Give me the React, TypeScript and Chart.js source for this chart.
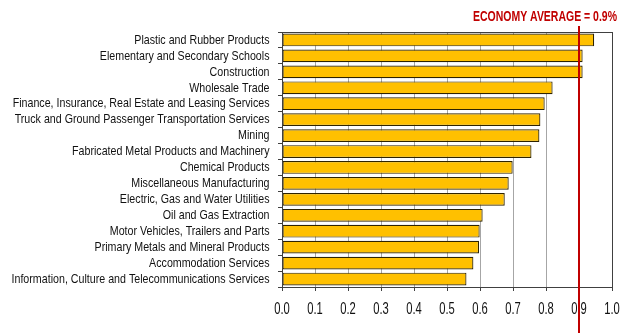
import React, { useEffect, useRef } from "react";
import { Chart, registerables } from "chart.js";

Chart.register(...registerables);

const categories = [
  "Plastic and Rubber Products",
  "Elementary and Secondary Schools",
  "Construction",
  "Wholesale Trade",
  "Finance, Insurance, Real Estate and Leasing Services",
  "Truck and Ground Passenger Transportation Services",
  "Mining",
  "Fabricated Metal Products and Machinery",
  "Chemical Products",
  "Miscellaneous Manufacturing",
  "Electric, Gas and Water Utilities",
  "Oil and Gas Extraction",
  "Motor Vehicles, Trailers and Parts",
  "Primary Metals and Mineral Products",
  "Accommodation Services",
  "Information, Culture and Telecommunications Services",
];

const values = [
  0.946, 0.911, 0.911, 0.82, 0.796, 0.783, 0.78, 0.756, 0.699, 0.687, 0.675,
  0.608, 0.599, 0.597, 0.58, 0.559,
];

const xTicks = [0, 0.1, 0.2, 0.3, 0.4, 0.5, 0.6, 0.7, 0.8, 0.9, 1.0];

const economyAverage = 0.9;
const averageLabel = "ECONOMY AVERAGE = 0.9%";

const FONT = "'Liberation Sans', Arial, sans-serif";

function narrowText(ctx: any, text: string, x: number, y: number, sx: number, align: string) {
  ctx.save();
  ctx.translate(x, y);
  ctx.scale(sx, 1);
  ctx.textAlign = align;
  ctx.fillText(text, 0, 0);
  ctx.restore();
}

export default function App() {
  const ref = useRef<HTMLCanvasElement | null>(null);

  useEffect(() => {
    if (!ref.current) return;
    const textPlugin = {
      id: "narrowText",
      afterDraw(chart: any) {
        const { ctx, chartArea, scales } = chart;
        ctx.save();
        // frame
        ctx.strokeStyle = "#404040";
        ctx.lineWidth = 1;
        ctx.strokeRect(
          Math.round(chartArea.left) + 0.5,
          Math.round(chartArea.top) + 0.5,
          Math.round(chartArea.right - chartArea.left),
          Math.round(chartArea.bottom - chartArea.top)
        );
        // y labels
        ctx.fillStyle = "#111";
        ctx.font = `13.5px ${FONT}`;
        ctx.textBaseline = "middle";
        let maxW = 0;
        categories.forEach((c) => {
          maxW = Math.max(maxW, ctx.measureText(c).width);
        });
        const sy = 258 / maxW;
        categories.forEach((c, i) => {
          const y = scales.y.getPixelForValue(i);
          narrowText(ctx, c, chartArea.left - 12.5, y, sy, "right");
        });
        // x labels
        ctx.font = `16.5px ${FONT}`;
        ctx.textBaseline = "alphabetic";
        xTicks.forEach((v) => {
          const px = scales.x.getPixelForValue(v);
          narrowText(ctx, v.toFixed(1), px, 313.5, 0.68, "center");
        });
        // average line
        const x = scales.x.getPixelForValue(economyAverage);
        ctx.strokeStyle = "#C00000";
        ctx.lineWidth = 2;
        ctx.beginPath();
        ctx.moveTo(x, 26);
        ctx.lineTo(x, chart.height);
        ctx.stroke();
        // average label
        ctx.fillStyle = "#C00000";
        ctx.font = `bold 14px ${FONT}`;
        ctx.textBaseline = "alphabetic";
        const lw = ctx.measureText(averageLabel).width;
        narrowText(ctx, averageLabel, x - 34, 20.5, 144 / lw, "center");
        ctx.restore();
      },
    };

    const chart = new Chart(ref.current, {
      type: "bar",
      data: {
        labels: categories,
        datasets: [
          {
            data: values,
            backgroundColor: "#FFC000",
            borderColor: "#2E2300",
            borderWidth: 1.2,
            borderSkipped: false,
            categoryPercentage: 1,
            barPercentage: 0.8,
          },
        ],
      },
      options: {
        indexAxis: "y",
        animation: false,
        responsive: false,
        maintainAspectRatio: false,
        layout: { padding: { top: 32, right: 16, left: 0, bottom: 0 } },
        plugins: { legend: { display: false }, tooltip: { enabled: false } },
        scales: {
          x: {
            min: 0,
            max: 1,
            ticks: { stepSize: 0.1, display: false },
            grid: {
              color: "#A6A6A6",
              lineWidth: 1,
              tickLength: 4,
              tickColor: "#404040",
            },
            border: { color: "#404040" },
            afterFit: (s: any) => {
              s.height = 46;
            },
          },
          y: {
            ticks: { display: false, autoSkip: false },
            grid: {
              offset: true,
              drawOnChartArea: false,
              tickLength: 4,
              tickColor: "#404040",
            },
            border: { color: "#404040" },
            afterFit: (s: any) => {
              s.width = 282;
            },
          },
        },
      },
      plugins: [textPlugin],
    });
    return () => chart.destroy();
  }, []);

  return (
    <div style={{ position: "fixed", left: 0, top: 0, width: 628, height: 333, background: "#fff" }}>
      <canvas ref={ref} width={628} height={333} />
    </div>
  );
}
